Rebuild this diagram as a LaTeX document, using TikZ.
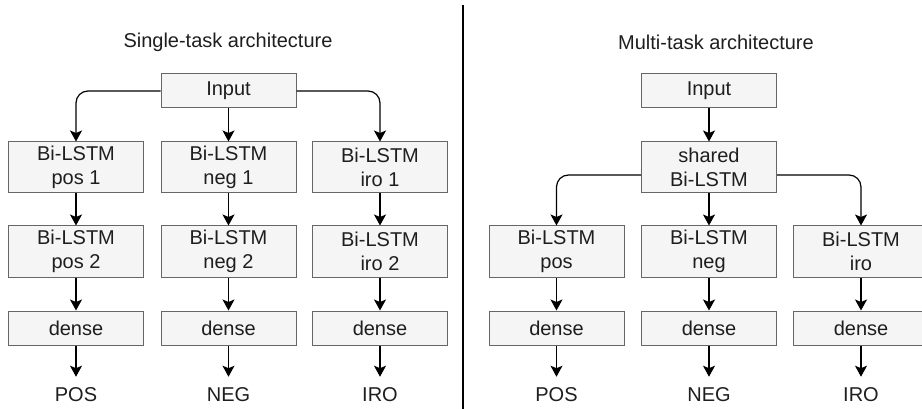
\documentclass[tikz,border=0pt]{standalone}
\usepackage{fontspec}
\setmainfont{Liberation Sans}
\usetikzlibrary{arrows.meta}
\definecolor{boxfill}{HTML}{F5F5F5}
\definecolor{boxline}{HTML}{666666}
\definecolor{txt}{HTML}{1E1E1E}
\begin{document}
\begin{tikzpicture}[x=1pt,y=-1pt,
  box/.style={draw=boxline, fill=boxfill, line width=1pt, minimum width=135pt, align=center,
    text=txt, font=\fontsize{20}{24.5}\selectfont, inner sep=0pt},
  boxone/.style={box, minimum height=34pt},
  boxtwo/.style={box, minimum height=51pt},
  lbl/.style={text=txt, font=\fontsize{20}{24.5}\selectfont, inner sep=0pt},
  arr/.style={draw=black, line width=1.2pt, -{Stealth[length=11pt,width=12pt,inset=2.5pt]}, rounded corners=12pt}]
\useasboundingbox (0,0) rectangle (922,409);
\clip (0,0) rectangle (922,409);

% titles
\node[lbl] (t1) at (228,42) {Single-task architecture};
\node[lbl] (t2) at (716,42) {Multi-task architecture};

% divider
\coordinate (dvt) at (463,5);
\coordinate (dvb) at (463,409);
\draw[line width=1.3pt] (dvt) -- (dvb);

% ---- single task ----
\node[boxone] (inL) at (228.5,91) {Input};
\node[boxtwo] (p1) at (76,167.5) {Bi-LSTM\\pos 1};
\node[boxtwo] (n1) at (228.5,167.5) {Bi-LSTM\\neg 1};
\node[boxtwo] (i1) at (380,167.5) {Bi-LSTM\\iro 1};
\node[boxtwo] (p2) at (76,251.5) {Bi-LSTM\\pos 2};
\node[boxtwo] (n2) at (228.5,251.5) {Bi-LSTM\\neg 2};
\node[boxtwo] (i2) at (380,251.5) {Bi-LSTM\\iro 2};
\node[boxone] (pd) at (76,328) {dense};
\node[boxone] (nd) at (228.5,328) {dense};
\node[boxone] (id) at (380,328) {dense};
\node[lbl] (po) at (76,395) {POS};
\node[lbl] (no) at (228.5,395) {NEG};
\node[lbl] (io) at (380,395) {IRO};

\draw[arr] (inL.west) -| (p1.north);
\draw[arr] (inL.east) -| (i1.north);
\draw[arr] (inL.south) -- (n1.north);
\draw[arr] (p1) -- (p2);
\draw[arr] (n1) -- (n2);
\draw[arr] (i1) -- (i2);
\draw[arr] (p2) -- (pd);
\draw[arr] (n2) -- (nd);
\draw[arr] (i2) -- (id);
\draw[arr] (pd.south) -- ([yshift=11pt]po.north);
\draw[arr] (nd.south) -- ([yshift=11pt]no.north);
\draw[arr] (id.south) -- ([yshift=11pt]io.north);

% ---- multi task ----
\node[boxone] (inR) at (709,91) {Input};
\node[boxtwo] (sh) at (709,167.5) {shared\\Bi-LSTM};
\node[boxtwo] (mp) at (556.5,251.5) {Bi-LSTM\\pos};
\node[boxtwo] (mn) at (709,251.5) {Bi-LSTM\\neg};
\node[boxtwo] (mi) at (861,251.5) {Bi-LSTM\\iro};
\node[boxone] (mpd) at (556.5,328) {dense};
\node[boxone] (mnd) at (709,328) {dense};
\node[boxone] (mid) at (861,328) {dense};
\node[lbl] (mpo) at (556.5,395) {POS};
\node[lbl] (mno) at (709,395) {NEG};
\node[lbl] (mio) at (861,395) {IRO};

\draw[arr] (inR) -- (sh);
\draw[arr] ([yshift=-7.5pt]sh.west) -| (mp.north);
\draw[arr] ([yshift=-7.5pt]sh.east) -| (mi.north);
\draw[arr] (sh) -- (mn);
\draw[arr] (mp) -- (mpd);
\draw[arr] (mn) -- (mnd);
\draw[arr] (mi) -- (mid);
\draw[arr] (mpd.south) -- ([yshift=11pt]mpo.north);
\draw[arr] (mnd.south) -- ([yshift=11pt]mno.north);
\draw[arr] (mid.south) -- ([yshift=11pt]mio.north);
\end{tikzpicture}
\end{document}
